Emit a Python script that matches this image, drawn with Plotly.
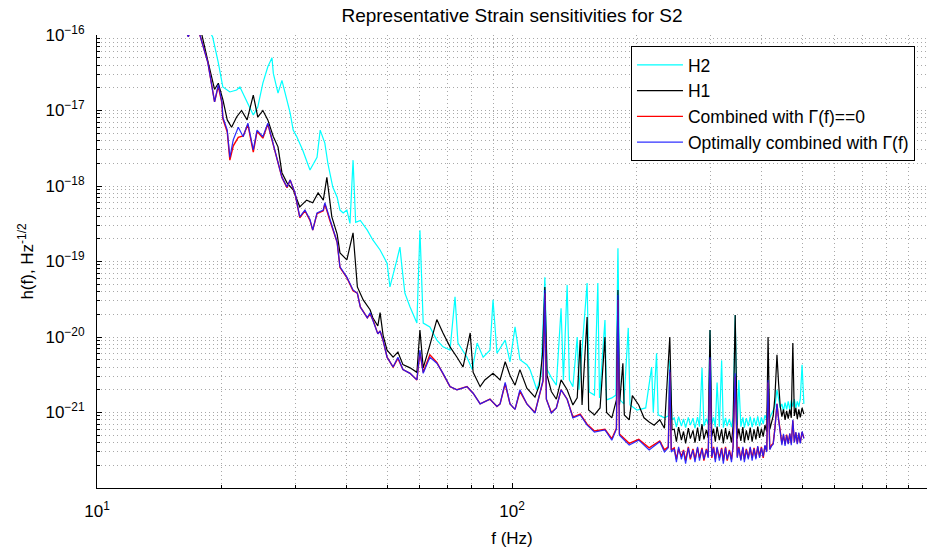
import plotly.graph_objects as go

# ---------------- data ----------------
# low-frequency part of each spectrum (below ~245 Hz)
cyan_f_low = [18.0, 19.0, 19.6, 20.1, 20.9, 21.7, 22.1, 22.7, 23.4, 23.8,
              24.4, 25.1, 25.8, 26.4, 26.6, 27.3, 27.9, 28.4, 29.2, 29.7,
              30.3, 31.3, 32.6, 33.9, 34.5, 35.4, 36.0, 37.0, 37.9, 38.5,
              39.2, 40.0, 40.7, 41.4, 42.0, 43.1, 44.8, 46.2, 47.5, 48.1,
              50.0, 50.8, 52.8, 53.7, 54.3, 55.2, 56.8, 59.0, 60.0, 61.1,
              63.4, 65.9, 68.2, 70.9, 72.9, 74.1, 77.9, 80.2, 82.4, 85.2,
              88.5, 90.0, 92.0, 96.3, 98.9, 101.7, 104.5, 108.6, 110.5, 114.8,
              117.5, 120.0, 121.5, 124.4, 127.9, 131.3, 133.0, 135.8, 137.5, 140.2,
              143.6, 145.0, 151.7, 153.5, 158.0, 161.0, 162.5, 167.5, 169.0, 174.0,
              178.0, 180.0, 182.0, 186.0, 190.6, 192.5, 200.0, 210.0, 217.0, 219.0,
              223.0, 225.0, 233.0, 238.0, 240.0, 243.0]
cyan_h_low = [1.6e-16, 9.4e-17, 4.3e-17, 2.05e-17, 1.76e-17, 1.87e-17, 2.05e-17, 1.51e-17, 1.02e-17, 8.7e-18,
              1.11e-17, 2.3e-17, 3.8e-17, 5.0e-17, 3.1e-17, 1.7e-17, 2.5e-17, 1.7e-17, 9.3e-18, 5.5e-18,
              4.5e-18, 3.0e-18, 1.63e-18, 2.4e-18, 5.5e-18, 3.7e-18, 2.0e-18, 9.7e-19, 7.1e-19, 4.8e-19,
              4.4e-19, 4.8e-19, 3.2e-19, 2.2e-18, 3.3e-19, 3.5e-19, 2.6e-19, 1.93e-19, 1.55e-19, 1.42e-19,
              9.5e-20, 4.6e-20, 1.05e-19, 1.55e-19, 8.5e-20, 3.8e-20, 2.5e-20, 1.53e-20, 2.6e-19, 1.53e-20,
              1.36e-20, 9.1e-21, 7.4e-21, 6.7e-21, 3.4e-20, 8.3e-21, 5.4e-21, 3.7e-21, 8.3e-21, 5.4e-21,
              6.7e-21, 3.1e-20, 6.1e-21, 9.1e-21, 4.7e-21, 1.36e-20, 5.0e-21, 4.3e-21, 3.7e-21, 2.0e-21,
              3.1e-21, 6.2e-20, 3.7e-21, 2.9e-21, 2.3e-21, 2.4e-20, 2.7e-21, 4.9e-20, 2.7e-21, 2.2e-21,
              1.0e-20, 2.0e-21, 5.2e-20, 1.87e-21, 1.7e-21, 5.2e-20, 1.56e-21, 1.68e-20, 1.47e-21, 1.56e-21,
              1.7e-21, 1.5e-19, 1.47e-21, 1.3e-21, 1.32e-20, 1.26e-21, 1.08e-21, 1.15e-21, 4.0e-21, 1.0e-21,
              6.1e-21, 9.3e-22, 8.5e-22, 9.0e-22, 4.9e-21, 8.0e-22]

black_f_low = [17.0, 17.9, 18.5, 19.2, 19.6, 20.1, 20.6, 21.1, 21.7, 22.3,
               23.0, 23.8, 24.4, 25.1, 25.8, 26.6, 27.3, 27.9, 28.7, 29.7,
               30.8, 32.0, 33.1, 34.1, 35.1, 35.8, 36.8, 37.9, 38.5, 40.0,
               41.4, 42.4, 43.8, 45.5, 46.2, 47.5, 48.1, 48.9, 50.0, 51.7,
               53.1, 54.6, 56.8, 59.0, 60.0, 61.1, 63.4, 65.9, 68.2, 70.9,
               73.7, 76.2, 79.3, 80.6, 83.8, 86.0, 90.0, 93.6, 96.3, 98.9,
               101.7, 104.5, 108.6, 113.6, 116.4, 118.5, 120.0, 121.5, 124.4, 127.9,
               131.3, 135.8, 140.2, 143.6, 146.0, 147.5, 151.7, 153.0, 158.0, 163.0,
               167.5, 169.0, 174.0, 178.5, 180.0, 181.5, 185.0, 186.5, 191.6, 195.0,
               202, 208, 214, 220, 227, 233, 240, 243]
black_h_low = [1.6e-16, 1.0e-16, 4.5e-17, 1.9e-17, 2.3e-17, 1.4e-17, 7.5e-18, 6.0e-18, 8.2e-18, 1.0e-17,
               7.5e-18, 1.6e-17, 8.2e-18, 1.0e-17, 7.5e-18, 4.5e-18, 3.3e-18, 1.5e-18, 1.1e-18, 8.9e-19,
               5.3e-19, 6.5e-19, 6.0e-19, 8.1e-19, 6.5e-19, 1.3e-18, 3.9e-19, 2.3e-19, 1.3e-19, 1.05e-19,
               2.4e-19, 4.6e-20, 3.1e-20, 2.3e-20, 1.8e-20, 1.4e-20, 2.1e-20, 1.06e-20, 6.7e-21, 5.4e-21,
               6.3e-21, 4.3e-21, 3.9e-21, 3.4e-21, 1.24e-20, 3.9e-21, 7.8e-21, 1.7e-20, 1.13e-20, 7.4e-21,
               5.4e-21, 4.0e-21, 1.13e-20, 3.4e-21, 2.2e-21, 2.7e-21, 3.3e-21, 2.7e-21, 4.7e-21, 3.1e-21,
               2.3e-21, 3.7e-21, 2.1e-21, 1.6e-21, 2.3e-21, 6.1e-21, 4.6e-20, 3.1e-21, 1.9e-21, 1.5e-21,
               2.7e-21, 2.0e-21, 1.26e-21, 1.56e-21, 9.1e-21, 1.26e-21, 1.84e-20, 1.08e-21, 9.3e-22, 1.15e-21,
               1.0e-20, 1.0e-21, 8.5e-22, 1.47e-21, 4.2e-20, 1.26e-21, 4.5e-21, 9.3e-22, 8.0e-22, 1.67e-21,
               1.26e-21, 8.5e-22, 7.5e-22, 6.8e-22, 8.0e-22, 6.2e-22, 1.0e-20, 5.9e-22]

comb_f_low = [16.0, 16.6, 17.1, 17.7, 18.5, 19.2, 19.6, 20.0, 20.1, 20.6,
              20.9, 21.3, 21.9, 22.5, 23.1, 23.8, 24.3, 25.1, 25.8, 26.6,
              27.1, 27.9, 28.7, 29.2, 30.0, 30.8, 31.7, 32.6, 33.1, 33.9,
              35.1, 35.4, 36.4, 36.8, 37.9, 38.5, 40.0, 41.4, 42.4, 43.1,
              44.8, 45.5, 46.2, 47.5, 48.1, 48.9, 50.0, 51.7, 53.1, 54.6,
              56.8, 59.0, 60.0, 61.1, 63.4, 65.9, 68.2, 70.9, 73.7, 77.9,
              80.6, 83.8, 88.5, 92.0, 93.6, 96.3, 98.9, 101.7, 104.5, 108.6,
              113.6, 116.4, 118.8, 120.0, 121.0, 124.4, 127.9, 131.3, 135.8, 140.2,
              146.0, 151.7, 158.0, 167.5, 174.0, 178.5, 180.0, 181.5, 183.6, 191.6,
              202, 214, 227, 233, 238, 240, 242]
red_h_low = [1.5e-16, 9.5e-17, 1.5e-16, 1.0e-16, 4.3e-17, 1.3e-17, 2.1e-17, 1.25e-17, 7.8e-18, 5.2e-18,
             2.2e-18, 3.4e-18, 4.4e-18, 4.6e-18, 6.5e-18, 2.8e-18, 5.3e-18, 4.3e-18, 6.6e-18, 3.6e-18,
             2.3e-18, 1.3e-18, 9.5e-19, 1.2e-18, 8.0e-19, 3.8e-19, 4.7e-19, 3.5e-19, 2.6e-19, 4.3e-19,
             4.7e-19, 5.8e-19, 3.5e-19, 2.9e-19, 1.8e-19, 8.3e-20, 6.1e-20, 4.1e-20, 3.8e-20, 2.5e-20,
             1.8e-20, 2.0e-20, 1.7e-20, 1.1e-20, 1.2e-20, 9.0e-21, 5.4e-21, 4.0e-21, 5.2e-21, 3.7e-21,
             3.3e-21, 2.7e-21, 6.2e-21, 3.4e-21, 5.8e-21, 4.6e-21, 3.3e-21, 2.2e-21, 2.0e-21, 2.2e-21,
             1.8e-21, 1.3e-21, 1.5e-21, 1.2e-21, 1.3e-21, 2.4e-21, 1.3e-21, 1.1e-21, 1.9e-21, 1.3e-21,
             1.0e-21, 1.7e-21, 2.6e-21, 3.8e-20, 1.5e-21, 1.0e-21, 1.15e-21, 2.0e-21, 1.5e-21, 8.7e-22,
             9.5e-22, 7.0e-22, 5.7e-22, 6.0e-22, 4.5e-22, 6.2e-22, 3.1e-20, 5.2e-22, 4.9e-22, 3.9e-22,
             4.4e-22, 3.4e-22, 4.2e-22, 3.2e-22, 3.5e-22, 3.4e-21, 3.2e-22]
blue_h_low = [1.5e-16, 9.5e-17, 1.5e-16, 1.0e-16, 4.3e-17, 1.3e-17, 2.2e-17, 1.3e-17, 8.2e-18, 5.5e-18,
              2.4e-18, 4.1e-18, 6.0e-18, 4.5e-18, 6.8e-18, 3.0e-18, 5.5e-18, 4.5e-18, 6.8e-18, 3.7e-18,
              2.4e-18, 1.3e-18, 9.7e-19, 1.2e-18, 8.1e-19, 3.9e-19, 4.8e-19, 3.6e-19, 2.6e-19, 4.4e-19,
              4.8e-19, 6.0e-19, 3.6e-19, 2.9e-19, 1.8e-19, 8.5e-20, 6.2e-20, 4.2e-20, 3.8e-20, 2.5e-20,
              1.8e-20, 2.1e-20, 1.7e-20, 1.1e-20, 1.2e-20, 9.1e-21, 5.4e-21, 4.0e-21, 5.4e-21, 3.7e-21,
              3.3e-21, 2.7e-21, 6.7e-21, 3.3e-21, 5.4e-21, 4.5e-21, 3.3e-21, 2.2e-21, 2.0e-21, 2.2e-21,
              1.8e-21, 1.3e-21, 1.5e-21, 1.2e-21, 1.3e-21, 2.5e-21, 1.3e-21, 1.1e-21, 2.0e-21, 1.3e-21,
              9.8e-22, 1.7e-21, 2.7e-21, 4.2e-20, 1.5e-21, 9.8e-22, 1.15e-21, 2.0e-21, 1.5e-21, 8.5e-22,
              9.3e-22, 6.8e-22, 5.5e-22, 5.9e-22, 4.3e-22, 6.0e-22, 3.6e-20, 5.0e-22, 4.7e-22, 3.7e-22,
              4.3e-22, 3.2e-22, 4.1e-22, 3.0e-22, 3.4e-22, 3.7e-21, 3.0e-22]

# high-frequency part (246-505 Hz), shared frequency grid
band_f = [246, 249, 252, 256, 259, 262, 266, 269, 273, 276,
          280, 283, 287, 290, 294, 297, 300, 303, 306, 309,
          312, 316, 320, 323, 327, 330, 334, 338, 341, 345,
          349, 352, 356, 360, 363, 367, 371, 375, 379, 383,
          387, 391, 395, 399, 403, 407, 411, 414, 418, 422,
          426, 430, 435, 439, 443, 447, 451, 455, 459, 463,
          467, 471, 475, 479, 483, 487, 491, 495, 500, 505]
cyan_h_band = [8.5e-22, 6.4e-22, 8.8e-22, 6.6e-22, 8.2e-22, 6.3e-22, 8.6e-22, 6.8e-22, 8.4e-22, 6.2e-22,
               8.7e-22, 6.5e-22, 3.9e-21, 6.6e-22, 8.3e-22, 6.9e-22, 1.24e-20, 7.0e-22, 8.6e-22, 6.4e-22,
               2.5e-21, 6.5e-22, 4.9e-21, 6.3e-22, 8.5e-22, 6.6e-22, 8.2e-22, 6.4e-22, 8.7e-22, 1.95e-20,
               6.8e-22, 2.7e-21, 6.5e-22, 8.6e-22, 6.3e-22, 8.4e-22, 6.6e-22, 8.8e-22, 6.4e-22, 8.5e-22,
               6.7e-22, 8.9e-22, 6.6e-22, 8.6e-22, 7.0e-22, 9.2e-22, 8.0e-22, 1.5e-21, 8.5e-22, 9.5e-22,
               1.05e-21, 1.2e-21, 2.0e-21, 1.4e-21, 1.15e-21, 1.3e-21, 1.05e-21, 1.35e-21, 1.1e-21, 1.4e-21,
               1.1e-21, 1.45e-21, 1.2e-21, 1.5e-21, 1.15e-21, 1.4e-21, 1.2e-21, 1.5e-21, 4.3e-21, 1.3e-21]
black_h_band = [6.0e-22, 4.1e-22, 6.4e-22, 4.3e-22, 5.6e-22, 3.9e-22, 6.2e-22, 4.5e-22, 5.8e-22, 4.0e-22,
                6.3e-22, 4.2e-22, 7.0e-22, 4.4e-22, 5.9e-22, 4.6e-22, 1.24e-20, 4.8e-22, 6.1e-22, 4.1e-22,
                6.5e-22, 4.3e-22, 6.0e-22, 3.9e-22, 6.2e-22, 4.4e-22, 5.7e-22, 4.0e-22, 6.6e-22, 1.95e-20,
                4.5e-22, 6.1e-22, 4.2e-22, 6.4e-22, 4.0e-22, 5.8e-22, 4.3e-22, 6.3e-22, 4.1e-22, 6.0e-22,
                4.4e-22, 6.5e-22, 4.6e-22, 6.1e-22, 4.8e-22, 6.8e-22, 5.6e-22, 1.0e-20, 6.0e-22, 7.2e-22,
                9.0e-22, 1.6e-21, 5.8e-21, 2.4e-21, 1.2e-21, 8.8e-22, 1.1e-21, 8.0e-22, 1.05e-21, 8.3e-22,
                1.1e-21, 8.5e-22, 8.3e-21, 9.0e-22, 1.15e-21, 8.2e-22, 1.1e-21, 8.6e-22, 1.15e-21, 9.5e-22]
red_h_band = [3.4e-22, 2.4e-22, 3.3e-22, 2.6e-22, 3.2e-22, 2.3e-22, 3.5e-22, 2.4e-22, 3.3e-22, 2.4e-22,
              3.4e-22, 2.5e-22, 3.4e-22, 2.3e-22, 3.3e-22, 2.6e-22, 5.0e-21, 2.5e-22, 3.5e-22, 2.4e-22,
              3.4e-22, 2.5e-22, 3.4e-22, 2.3e-22, 3.5e-22, 2.3e-22, 3.2e-22, 2.4e-22, 3.5e-22, 3.0e-21,
              2.6e-22, 3.5e-22, 2.4e-22, 3.4e-22, 2.4e-22, 3.3e-22, 2.5e-22, 3.4e-22, 2.5e-22, 3.4e-22,
              2.5e-22, 3.5e-22, 2.6e-22, 3.5e-22, 2.5e-22, 3.6e-22, 3.1e-22, 2.5e-21, 3.3e-22, 3.7e-22,
              3.9e-22, 6.2e-22, 1.3e-21, 8.2e-22, 5.1e-22, 3.9e-22, 5.0e-22, 3.8e-22, 5.1e-22, 3.9e-22,
              5.2e-22, 3.9e-22, 7.8e-22, 4.1e-22, 5.4e-22, 3.9e-22, 5.3e-22, 4.0e-22, 5.5e-22, 4.6e-22]
blue_h_band = [3.3e-22, 2.2e-22, 3.5e-22, 2.4e-22, 3.1e-22, 2.1e-22, 3.4e-22, 2.5e-22, 3.2e-22, 2.2e-22,
               3.5e-22, 2.3e-22, 3.3e-22, 2.4e-22, 3.2e-22, 2.5e-22, 5.4e-21, 2.6e-22, 3.4e-22, 2.2e-22,
               3.5e-22, 2.3e-22, 3.3e-22, 2.1e-22, 3.4e-22, 2.4e-22, 3.1e-22, 2.2e-22, 3.6e-22, 3.3e-21,
               2.5e-22, 3.4e-22, 2.3e-22, 3.5e-22, 2.2e-22, 3.2e-22, 2.4e-22, 3.5e-22, 2.3e-22, 3.3e-22,
               2.4e-22, 3.6e-22, 2.5e-22, 3.4e-22, 2.6e-22, 3.7e-22, 3.0e-22, 2.7e-21, 3.2e-22, 3.6e-22,
               3.8e-22, 6.0e-22, 1.3e-21, 8.0e-22, 5.0e-22, 3.7e-22, 5.2e-22, 3.6e-22, 5.0e-22, 3.8e-22,
               5.3e-22, 3.7e-22, 8.0e-22, 4.0e-22, 5.5e-22, 3.8e-22, 5.4e-22, 3.9e-22, 5.6e-22, 4.5e-22]

series_names = ["H2", "H1", "Combined with \u0393(f)==0", "Optimally combined with \u0393(f)"]

x_tickvals = [10, 100, 1000]
x_ticktext = ["10<sup>1</sup>", "10<sup>2</sup>", "10<sup>3</sup>"]
y_tickvals = [1e-21, 1e-20, 1e-19, 1e-18, 1e-17, 1e-16]
y_ticktext = ["10<sup>\u221221</sup>", "10<sup>\u221220</sup>", "10<sup>\u221219</sup>",
              "10<sup>\u221218</sup>", "10<sup>\u221217</sup>", "10<sup>\u221216</sup>"]

assert len(cyan_f_low) == len(cyan_h_low)
assert len(black_f_low) == len(black_h_low)
assert len(comb_f_low) == len(red_h_low) == len(blue_h_low)
assert len(band_f) == len(cyan_h_band) == len(black_h_band) == len(red_h_band) == len(blue_h_band)

x_minor = [m * 10 ** e for e in range(1, 3) for m in range(2, 10)]
y_minor = [m * 10.0 ** e for e in range(-22, -16) for m in range(2, 10)]

FONT = "Liberation Sans, Arial, Helvetica, sans-serif"
GRID = "#a8a8a8"
GDASH = "1px,3px"

fig = go.Figure()
fig.add_trace(go.Scatter(x=cyan_f_low + band_f, y=cyan_h_low + cyan_h_band, mode="lines",
                         name=series_names[0], line=dict(color="#00ffff", width=1.2)))
fig.add_trace(go.Scatter(x=black_f_low + band_f, y=black_h_low + black_h_band, mode="lines",
                         name=series_names[1], line=dict(color="#000000", width=1.2)))
fig.add_trace(go.Scatter(x=comb_f_low + band_f, y=red_h_low + red_h_band, mode="lines",
                         name=series_names[2], line=dict(color="#ff0000", width=1.4)))
fig.add_trace(go.Scatter(x=comb_f_low + band_f, y=blue_h_low + blue_h_band, mode="lines",
                         name=series_names[3], line=dict(color="#1a1aff", width=1.2), opacity=0.9))

axis_common = dict(
    showline=True, linecolor="#000000", linewidth=1, mirror=False,
    ticks="inside", ticklen=5, tickcolor="#000000", tickwidth=1,
    showgrid=True, gridcolor=GRID, griddash=GDASH, gridwidth=1,
    zeroline=False, tickfont=dict(family=FONT, size=17, color="#000000"),
    ticklabelstandoff=8, automargin=False,
)

fig.update_xaxes(type="log", range=[1, 3], tickmode="array", tickvals=x_tickvals, ticktext=x_ticktext,
                 minor=dict(tickmode="array", tickvals=x_minor, ticks="inside", ticklen=3,
                            tickcolor="#000000", showgrid=True, gridcolor=GRID, griddash=GDASH, gridwidth=1),
                 title=dict(text="f (Hz)", font=dict(family=FONT, size=17, color="#000000"), standoff=12),
                 **axis_common)
fig.update_yaxes(type="log", range=[-22, -16], tickmode="array", tickvals=y_tickvals, ticktext=y_ticktext,
                 minor=dict(tickmode="array", tickvals=y_minor, ticks="inside", ticklen=3,
                            tickcolor="#000000", showgrid=True, gridcolor=GRID, griddash=GDASH, gridwidth=1),
                 title=dict(text="h(f), Hz<sup>-1/2</sup>", font=dict(family=FONT, size=17, color="#000000"),
                            standoff=7),
                 **axis_common)

fig.update_layout(
    width=939, height=548,
    margin=dict(l=97, r=12, t=35, b=60),
    paper_bgcolor="#ffffff", plot_bgcolor="#ffffff",
    font=dict(family=FONT, size=17, color="#000000"),
    title=dict(text="Representative Strain sensitivities for S2", x=0.5, xref="paper", xanchor="center",
               y=1 - 15 / 548, yref="container", yanchor="middle",
               font=dict(family=FONT, size=19, color="#000000")),
    legend=dict(x=0.9855, y=0.9757, xanchor="right", yanchor="top", bgcolor="#ffffff",
                bordercolor="#000000", borderwidth=1, font=dict(family=FONT, size=17.5, color="#000000"),
                tracegroupgap=0, itemwidth=46),
    showlegend=True,
)

fig.write_html("out.html")
